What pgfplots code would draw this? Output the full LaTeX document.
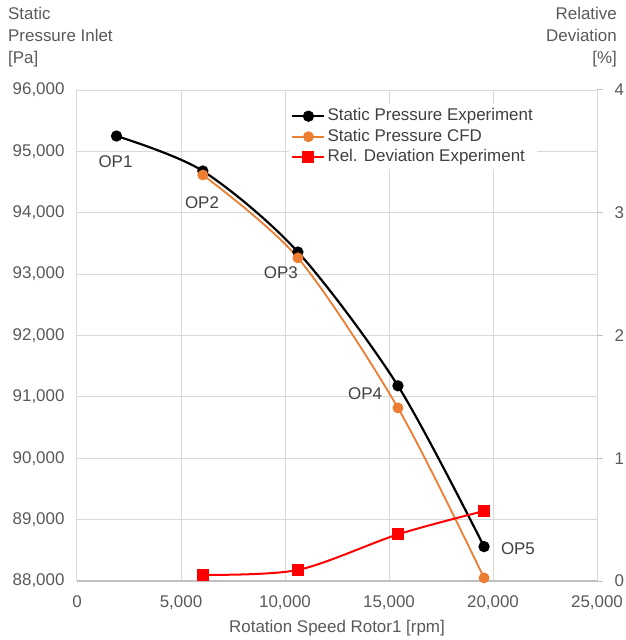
\documentclass[border=0pt]{standalone}
\usepackage{pgfplots}
\pgfplotsset{compat=1.18}
\usepackage{fontspec}
\setmainfont{Liberation Sans}
\definecolor{txt}{RGB}{89,89,89}
\definecolor{lbl}{RGB}{64,64,64}
\definecolor{gridc}{RGB}{217,217,217}
\definecolor{axc}{RGB}{191,191,191}
\definecolor{cfd}{RGB}{237,125,49}
\definecolor{dev}{RGB}{255,0,0}
\begin{document}
\begin{tikzpicture}[font=\fontsize{17}{20}\selectfont]
\path[use as bounding box] (-77bp,-59bp) rectangle (549bp,581bp);
\begin{axis}[
  at={(0,0)}, anchor=south west,
  scale only axis, width=520bp, height=491bp,
  xmin=0, xmax=25000, ymin=88000, ymax=96000,
  xtick={0,5000,...,25000}, ytick={88000,89000,...,96000},
  grid=major, major grid style={gridc, line width=1bp},
  axis x line*=bottom, axis y line*=left,
  x axis line style={axc, line width=1.2bp, -},
  y axis line style={draw=none},
  major tick length=0pt,
  scaled ticks=false,
  /pgf/number format/.cd, 1000 sep={,}, assume math mode=true,
  /pgfplots/.cd,
  ticklabel style={txt},
  xticklabel style={yshift=-11bp},
  yticklabel style={xshift=-9bp},
  legend image code/.code={\draw[mark repeat=2,mark phase=2,#1] plot coordinates {(0bp,0bp)(16bp,0bp)(32bp,0bp)};},
  legend cell align=left,
  legend style={at={(rel axis cs:0.408,0.972)}, anchor=north west, draw=none, fill=white,
    text=lbl, row sep=0pt, inner sep=2bp,
    font=\fontsize{17}{20}\selectfont,
    nodes={inner sep=2bp, text height=13bp, text depth=3.5bp}},
]
\addplot[black, line width=2.2bp, smooth, mark=*, mark size=4.5bp] coordinates {
  (1900,95250) (6050,94680) (10620,93360) (15430,91180) (19570,88560)};
\addlegendentry{Static Pressure Experiment}
\addplot[cfd, line width=1.8bp, smooth, mark=*, mark size=4.5bp] coordinates {
  (6050,94615) (10620,93265) (15430,90820) (19570,88050)};
\addlegendentry{Static Pressure CFD}
\addlegendimage{dev, line width=2bp, mark=square*, mark size=5bp}
\addlegendentry{Rel. Deviation Experiment}
\node[lbl] at (axis cs:1850,94840) {OP1};
\node[lbl] at (axis cs:6010,94170) {OP2};
\node[lbl] at (axis cs:9800,93020) {OP3};
\node[lbl] at (axis cs:13850,91050) {OP4};
\node[lbl] at (axis cs:21200,88530) {OP5};
\end{axis}
\begin{axis}[
  at={(0,0)}, anchor=south west,
  scale only axis, width=520bp, height=491bp,
  xmin=0, xmax=25000, ymin=0, ymax=4,
  axis x line=none, axis y line*=right,
  y axis line style={draw=none},
  ytick={0,1,2,3,4},
  tick align=outside, major tick length=6bp,
  major tick style={axc, line width=1bp},
  /pgf/number format/assume math mode=true,
  ticklabel style={txt},
  yticklabel style={xshift=8bp},
]
\addplot[dev, line width=2bp, smooth, mark=square*, mark size=5bp] coordinates {
  (6050,0.05) (10620,0.09) (15430,0.38) (19570,0.57)};
\end{axis}
\node[anchor=north west, align=left, text=txt, inner sep=0pt, font=\fontsize{17}{22}\selectfont] at (-69bp,574bp) {Static\\Pressure Inlet\\{}[Pa]};
\node[anchor=north east, align=right, text=txt, inner sep=0pt, font=\fontsize{17}{22}\selectfont] at (540bp,574bp) {Relative\\Deviation\\{}[\%]};
\node[text=txt] at (260bp,-47bp) {Rotation Speed Rotor1 [rpm]};
\end{tikzpicture}
\end{document}
